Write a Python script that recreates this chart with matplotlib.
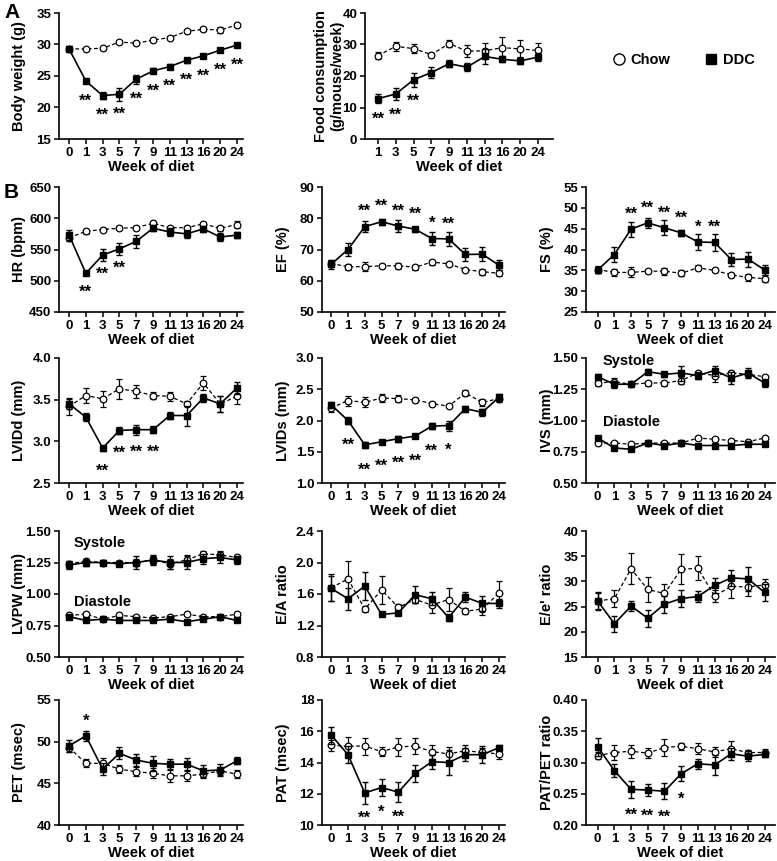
import matplotlib

matplotlib.use("Agg")
import matplotlib.pyplot as plt  # noqa: E402
from matplotlib.lines import Line2D  # noqa: E402
import numpy as np  # noqa: E402

plt.rcParams["font.family"] = ["Liberation Sans", "DejaVu Sans"]
plt.rcParams["font.weight"] = "bold"
plt.rcParams["axes.labelweight"] = "bold"

W, H = 777, 861

WEEKS = ["0", "1", "3", "5", "7", "9", "11", "13", "16", "20", "24"]
FOOD_WEEKS = ["1", "3", "5", "7", "9", "11", "13", "16", "20", "24"]

# --- A: body weight (g) ---
bw_chow = [29.3, 29.3, 29.4, 30.4, 30.2, 30.7, 31.1, 32.1, 32.4, 32.3, 33.1]
bw_chow_err = [0.3, 0.2, 0.2, 0.2, 0.2, 0.2, 0.2, 0.2, 0.2, 0.4, 0.3]
bw_ddc = [29.3, 24.2, 21.9, 22.1, 24.5, 25.8, 26.5, 27.5, 28.2, 29.1, 29.9]
bw_ddc_err = [0.4, 0.3, 0.5, 1.0, 0.7, 0.4, 0.4, 0.4, 0.3, 0.3, 0.3]
bw_stars = ["", "**", "**", "**", "**", "**", "**", "**", "**", "**", "**"]

# --- A: food consumption (g/mouse/week) ---
food_chow = [26.5, 29.4, 28.7, 26.8, 30.3, 27.9, 28.0, 29.0, 28.6, 28.1]
food_chow_err = [1.0, 1.5, 1.5, 0.5, 1.2, 1.8, 2.5, 3.5, 2.7, 2.3]
food_ddc = [12.8, 14.3, 18.8, 21.1, 23.9, 22.8, 26.2, 25.3, 24.8, 26.0]
food_ddc_err = [1.5, 1.8, 2.2, 1.8, 1.2, 1.2, 2.3, 1.0, 1.0, 1.2]
food_stars = ["**", "**", "**", "", "", "", "", "", "", ""]

# --- B ---
hr_chow = [569, 579, 582, 584, 585, 592, 585, 585, 591, 584, 590]
hr_chow_err = [6, 4, 3, 3, 3, 3, 3, 3, 3, 4, 5]
hr_ddc = [573, 512, 541, 551, 563, 584, 578, 575, 583, 570, 573]
hr_ddc_err = [8, 3, 10, 10, 10, 5, 6, 6, 5, 7, 5]
hr_stars = ["", "**", "**", "**", "", "", "", "", "", "", ""]

ef_chow = [65.5, 64.5, 64.5, 64.8, 64.8, 64.3, 66.0, 65.4, 63.6, 62.9, 62.4]
ef_chow_err = [1.0, 1.0, 1.5, 0.5, 1.0, 0.8, 0.8, 0.5, 0.6, 1.0, 1.0]
ef_ddc = [65.3, 70.0, 77.3, 78.9, 77.5, 76.5, 73.5, 73.4, 68.4, 68.5, 65.0]
ef_ddc_err = [1.5, 2.0, 1.8, 1.0, 1.8, 0.8, 2.2, 2.3, 2.0, 2.3, 1.7]
ef_stars = ["", "", "**", "**", "**", "**", "*", "**", "", "", ""]

fs_chow = [35.2, 34.5, 34.5, 34.8, 34.8, 34.3, 35.6, 35.0, 33.9, 33.3, 33.0]
fs_chow_err = [0.8, 0.8, 1.2, 0.4, 0.8, 0.7, 0.6, 0.4, 0.5, 0.8, 0.8]
fs_ddc = [35.1, 38.8, 44.9, 46.4, 45.2, 44.0, 41.8, 41.7, 37.6, 37.7, 35.1]
fs_ddc_err = [0.8, 1.8, 1.8, 1.2, 1.8, 0.8, 2.0, 2.0, 1.5, 1.8, 1.2]
fs_stars = ["", "", "**", "**", "**", "**", "*", "**", "", "", ""]

lvidd_chow = [3.42, 3.55, 3.51, 3.63, 3.60, 3.55, 3.54, 3.45, 3.70, 3.45, 3.54]
lvidd_chow_err = [0.10, 0.09, 0.10, 0.12, 0.08, 0.04, 0.05, 0.03, 0.08, 0.10, 0.09]
lvidd_ddc = [3.45, 3.29, 2.92, 3.13, 3.14, 3.14, 3.31, 3.31, 3.52, 3.45, 3.64]
lvidd_ddc_err = [0.06, 0.05, 0.03, 0.04, 0.06, 0.04, 0.04, 0.12, 0.05, 0.10, 0.07]
lvidd_stars = ["", "", "**", "**", "**", "**", "", "", "", "", ""]

lvids_chow = [2.20, 2.32, 2.29, 2.36, 2.35, 2.33, 2.27, 2.23, 2.44, 2.29, 2.35]
lvids_chow_err = [0.06, 0.08, 0.08, 0.07, 0.06, 0.03, 0.02, 0.02, 0.05, 0.06, 0.06]
lvids_ddc = [2.25, 2.00, 1.61, 1.66, 1.71, 1.75, 1.91, 1.92, 2.19, 2.13, 2.37]
lvids_ddc_err = [0.05, 0.06, 0.05, 0.03, 0.05, 0.03, 0.05, 0.08, 0.05, 0.05, 0.06]
lvids_stars = ["", "**", "**", "**", "**", "**", "**", "*", "", "", ""]

ivs_s_chow = [1.30, 1.31, 1.29, 1.30, 1.30, 1.32, 1.38, 1.36, 1.38, 1.37, 1.35]
ivs_s_chow_err = [0.02, 0.03, 0.01, 0.02, 0.02, 0.03, 0.02, 0.05, 0.02, 0.02, 0.01]
ivs_s_ddc = [1.35, 1.29, 1.29, 1.39, 1.37, 1.38, 1.36, 1.40, 1.34, 1.38, 1.30]
ivs_s_ddc_err = [0.02, 0.03, 0.01, 0.02, 0.02, 0.06, 0.03, 0.04, 0.05, 0.04, 0.03]
ivs_d_chow = [0.82, 0.82, 0.81, 0.82, 0.82, 0.82, 0.86, 0.85, 0.84, 0.83, 0.86]
ivs_d_chow_err = [0.01, 0.01, 0.01, 0.01, 0.01, 0.01, 0.01, 0.01, 0.01, 0.01, 0.01]
ivs_d_ddc = [0.86, 0.78, 0.77, 0.82, 0.80, 0.82, 0.80, 0.80, 0.80, 0.81, 0.81]
ivs_d_ddc_err = [0.01, 0.01, 0.01, 0.01, 0.01, 0.01, 0.01, 0.01, 0.01, 0.01, 0.01]

lvpw_s_chow = [1.24, 1.26, 1.25, 1.25, 1.25, 1.27, 1.24, 1.27, 1.32, 1.31, 1.29]
lvpw_s_chow_err = [0.02, 0.02, 0.02, 0.01, 0.03, 0.03, 0.04, 0.04, 0.02, 0.03, 0.02]
lvpw_s_ddc = [1.23, 1.25, 1.25, 1.24, 1.25, 1.27, 1.25, 1.25, 1.28, 1.29, 1.27]
lvpw_s_ddc_err = [0.03, 0.03, 0.02, 0.02, 0.05, 0.04, 0.05, 0.05, 0.04, 0.04, 0.03]
lvpw_d_chow = [0.83, 0.84, 0.80, 0.83, 0.82, 0.81, 0.82, 0.84, 0.82, 0.82, 0.84]
lvpw_d_chow_err = [0.01, 0.01, 0.01, 0.01, 0.01, 0.01, 0.01, 0.01, 0.01, 0.01, 0.01]
lvpw_d_ddc = [0.82, 0.79, 0.80, 0.79, 0.79, 0.79, 0.80, 0.78, 0.80, 0.82, 0.79]
lvpw_d_ddc_err = [0.01, 0.01, 0.01, 0.01, 0.01, 0.01, 0.01, 0.01, 0.01, 0.01, 0.01]

ea_chow = [1.68, 1.79, 1.41, 1.65, 1.43, 1.53, 1.46, 1.53, 1.38, 1.41, 1.61]
ea_chow_err = [0.17, 0.23, 0.04, 0.18, 0.04, 0.05, 0.10, 0.14, 0.04, 0.08, 0.15]
ea_ddc = [1.67, 1.54, 1.70, 1.34, 1.36, 1.59, 1.54, 1.30, 1.56, 1.48, 1.48]
ea_ddc_err = [0.16, 0.14, 0.18, 0.02, 0.03, 0.11, 0.08, 0.04, 0.06, 0.10, 0.06]

ee_chow = [26.1, 26.6, 32.5, 28.4, 27.6, 32.4, 32.6, 27.1, 29.0, 28.9, 29.3]
ee_chow_err = [1.5, 1.7, 3.1, 2.4, 1.8, 3.0, 2.4, 1.2, 2.2, 1.8, 1.2]
ee_ddc = [26.1, 21.6, 25.1, 22.7, 25.5, 26.6, 27.0, 29.2, 30.7, 30.5, 27.8]
ee_ddc_err = [1.8, 1.6, 1.0, 1.7, 1.7, 1.7, 1.0, 1.5, 1.6, 2.4, 1.6]

pet_chow = [49.3, 47.4, 47.4, 46.7, 46.4, 46.2, 45.9, 45.9, 46.1, 46.5, 46.1]
pet_chow_err = [0.5, 0.5, 0.6, 0.5, 0.5, 0.6, 0.7, 0.6, 0.5, 0.5, 0.5]
pet_ddc = [49.5, 50.7, 46.7, 48.6, 47.8, 47.4, 47.3, 47.3, 46.5, 46.6, 47.7]
pet_ddc_err = [0.7, 0.6, 0.7, 0.7, 0.7, 0.9, 0.6, 0.7, 0.7, 0.7, 0.4]
pet_stars = ["", "*", "", "", "", "", "", "", "", "", ""]

pat_chow = [15.1, 15.05, 15.05, 14.7, 15.0, 15.05, 14.7, 14.55, 14.75, 14.65, 14.55]
pat_chow_err = [0.35, 0.6, 0.55, 0.3, 0.6, 0.5, 0.45, 0.45, 0.35, 0.3, 0.35]
pat_ddc = [15.75, 14.5, 12.05, 12.4, 12.1, 13.3, 14.05, 14.0, 14.5, 14.5, 14.95]
pat_ddc_err = [0.55, 0.55, 0.7, 0.55, 0.65, 0.55, 0.45, 0.8, 0.4, 0.55, 0.15]
pat_stars = ["", "", "**", "*", "**", "", "", "", "", "", ""]

ratio_chow = [0.311, 0.316, 0.318, 0.315, 0.324, 0.326, 0.322, 0.317, 0.322, 0.316, 0.316]
ratio_chow_err = [0.006, 0.012, 0.010, 0.008, 0.013, 0.006, 0.009, 0.008, 0.012, 0.004, 0.005]
ratio_ddc = [0.325, 0.287, 0.257, 0.256, 0.254, 0.282, 0.298, 0.296, 0.314, 0.310, 0.313]
ratio_ddc_err = [0.014, 0.010, 0.013, 0.010, 0.013, 0.012, 0.008, 0.016, 0.010, 0.008, 0.004]
ratio_stars = ["", "", "**", "**", "**", "*", "", "", "", "", ""]

fig = plt.figure(figsize=(W / 100, H / 100), dpi=100)

COLS = {"c1": (59, 243, -0.6, 10.36), "c2": (322, 505, -0.55, 10.36), "c3": (586, 775, -0.7, 10.62)}
ROWS = {"a": (13, 139), "b1": (187, 312), "b2": (358, 483), "b3": (531, 657), "b4": (700, 825)}


def make_ax(left, right, top, bottom):
    return fig.add_axes([left / W, 1 - bottom / H, (right - left) / W, (bottom - top) / H])


def style_ax(ax, labels, ylim, yticks, fmt, ylabel, ylabel_px, left, right, top, bottom):
    for s in ("top", "right"):
        ax.spines[s].set_visible(False)
    for s in ("left", "bottom"):
        ax.spines[s].set_linewidth(1.2)
    ax.set_xticks(np.arange(len(labels)))
    ax.set_xticklabels(labels)
    ax.set_ylim(*ylim)
    ax.set_yticks(yticks)
    ax.set_yticklabels([fmt.format(v) for v in yticks])
    ax.tick_params(direction="out", length=3.5, width=1.1, labelsize=9.5, pad=2)
    ax.set_ylabel(ylabel, fontsize=10.5)
    ax.yaxis.set_label_coords((ylabel_px - left) / (right - left), 0.5)
    ax.set_xlabel("Week of diet", fontsize=10.5)
    ax.xaxis.set_label_coords(0.5, -21 / (bottom - top))


def draw(ax, mean, err, ddc):
    x = np.arange(len(mean))
    if ddc:
        ax.errorbar(x, mean, yerr=err, fmt="none", ecolor="k", elinewidth=1.0, capsize=2.2, capthick=1.0, zorder=3)
        ax.plot(x, mean, "-", color="k", lw=1.2, zorder=3)
        ax.plot(x, mean, "s", color="k", ms=4.7, zorder=4)
    else:
        ax.errorbar(x, mean, yerr=err, fmt="none", ecolor="k", elinewidth=0.9, capsize=2.2, capthick=0.9, zorder=2)
        ax.plot(x, mean, "--", color="k", lw=0.9, dashes=(3, 2), zorder=2)
        ax.plot(x, mean, "o", mfc="white", mec="k", mew=0.9, ms=4.8, zorder=2.5)


def stars(ax, mean, marks, off, above):
    for i, m in enumerate(marks):
        if not m:
            continue
        dy = off - 9.5 if above else -off - 9.5
        ax.annotate(m, (i, mean[i]), xytext=(0, dy), textcoords="offset pixels",
                    ha="center", va="baseline", fontsize=12, fontweight="bold")


def panel(col, row, labels, ylim, yticks, fmt, ylabel, ylabel_px, pairs, marks=None, off=16, above=False):
    left, right, x0, x1 = COLS[col] if isinstance(col, str) else col
    top, bottom = ROWS[row]
    ax = make_ax(left, right, top, bottom)
    for chow, chow_err, ddc, ddc_err in pairs:
        draw(ax, chow, chow_err, False)
        draw(ax, ddc, ddc_err, True)
    ax.set_xlim(x0, x1)
    style_ax(ax, labels, ylim, yticks, fmt, ylabel, ylabel_px, left, right, top, bottom)
    if marks:
        stars(ax, pairs[0][2], marks, off, above)
    return ax


# A
panel("c1", "a", WEEKS, (15, 35), [15, 20, 25, 30, 35], "{:g}", "Body weight (g)", 26,
      [(bw_chow, bw_chow_err, bw_ddc, bw_ddc_err)], bw_stars, 15)
panel((365, 553, -0.73, 9.84), "a", FOOD_WEEKS, (0, 40), [0, 10, 20, 30, 40], "{:g}",
      "Food consumption\n(g/mouse/week)", 344,
      [(food_chow, food_chow_err, food_ddc, food_ddc_err)], food_stars, 16)

# B row 1
panel("c1", "b1", WEEKS, (450, 650), [450, 500, 550, 600, 650], "{:g}", "HR (bpm)", 26,
      [(hr_chow, hr_chow_err, hr_ddc, hr_ddc_err)], hr_stars, 14.5)
panel("c2", "b1", WEEKS, (50, 90), [50, 60, 70, 80, 90], "{:g}", "EF (%)", 290,
      [(ef_chow, ef_chow_err, ef_ddc, ef_ddc_err)], ef_stars, 20, True)
panel("c3", "b1", WEEKS, (25, 55), [25, 30, 35, 40, 45, 50, 55], "{:g}", "FS (%)", 554,
      [(fs_chow, fs_chow_err, fs_ddc, fs_ddc_err)], fs_stars, 20, True)

# B row 2
panel("c1", "b2", WEEKS, (2.5, 4.0), [2.5, 3.0, 3.5, 4.0], "{:.1f}", "LVIDd (mm)", 26,
      [(lvidd_chow, lvidd_chow_err, lvidd_ddc, lvidd_ddc_err)], lvidd_stars, 18)
panel("c2", "b2", WEEKS, (1.0, 3.0), [1.0, 1.5, 2.0, 2.5, 3.0], "{:.1f}", "LVIDs (mm)", 290,
      [(lvids_chow, lvids_chow_err, lvids_ddc, lvids_ddc_err)], lvids_stars, 20)
ax = panel("c3", "b2", WEEKS, (0.5, 1.5), [0.5, 0.75, 1.0, 1.25, 1.5], "{:.2f}", "IVS (mm)", 554,
           [(ivs_s_chow, ivs_s_chow_err, ivs_s_ddc, ivs_s_ddc_err),
            (ivs_d_chow, ivs_d_chow_err, ivs_d_ddc, ivs_d_ddc_err)])
ax.text(0.09, 0.98, "Systole", transform=ax.transAxes, fontsize=10.5, va="center", ha="left")
ax.text(0.09, 0.49, "Diastole", transform=ax.transAxes, fontsize=10.5, va="center", ha="left")

# B row 3
ax = panel("c1", "b3", WEEKS, (0.5, 1.5), [0.5, 0.75, 1.0, 1.25, 1.5], "{:.2f}", "LVPW (mm)", 26,
           [(lvpw_s_chow, lvpw_s_chow_err, lvpw_s_ddc, lvpw_s_ddc_err),
            (lvpw_d_chow, lvpw_d_chow_err, lvpw_d_ddc, lvpw_d_ddc_err)])
ax.text(0.08, 0.905, "Systole", transform=ax.transAxes, fontsize=10.5, va="center", ha="left")
ax.text(0.08, 0.44, "Diastole", transform=ax.transAxes, fontsize=10.5, va="center", ha="left")
panel("c2", "b3", WEEKS, (0.8, 2.4), [0.8, 1.2, 1.6, 2.0, 2.4], "{:.1f}", "E/A ratio", 290,
      [(ea_chow, ea_chow_err, ea_ddc, ea_ddc_err)])
panel("c3", "b3", WEEKS, (15, 40), [15, 20, 25, 30, 35, 40], "{:g}", "E/e' ratio", 554,
      [(ee_chow, ee_chow_err, ee_ddc, ee_ddc_err)])

# B row 4
panel("c1", "b4", WEEKS, (40, 55), [40, 45, 50, 55], "{:g}", "PET (msec)", 26,
      [(pet_chow, pet_chow_err, pet_ddc, pet_ddc_err)], pet_stars, 20, True)
panel("c2", "b4", WEEKS, (10, 18), [10, 12, 14, 16, 18], "{:g}", "PAT (msec)", 290,
      [(pat_chow, pat_chow_err, pat_ddc, pat_ddc_err)], pat_stars, 20)
panel("c3", "b4", WEEKS, (0.2, 0.4), [0.2, 0.25, 0.3, 0.35, 0.4], "{:.2f}", "PAT/PET ratio", 554,
      [(ratio_chow, ratio_chow_err, ratio_ddc, ratio_ddc_err)], ratio_stars, 21)

# panel letters
fig.text(4 / W, 1 - 12 / H, "A", fontsize=15, fontweight="bold", va="center", ha="left")
fig.text(4 / W, 1 - 193 / H, "B", fontsize=15, fontweight="bold", va="center", ha="left")

# legend
handles = [
    Line2D([], [], ls="none", marker="o", mfc="white", mec="k", mew=1.0, ms=8),
    Line2D([], [], ls="none", marker="s", color="k", ms=7),
]
fig.legend(handles, ["Chow", "DDC"], loc="center left", bbox_to_anchor=(613 / W, 1 - 60 / H),
           ncol=2, frameon=False, fontsize=10.5, handlelength=0.8, handletextpad=0.4,
           columnspacing=2.4, borderpad=0, borderaxespad=0)

fig.savefig("out.png", dpi=100)
